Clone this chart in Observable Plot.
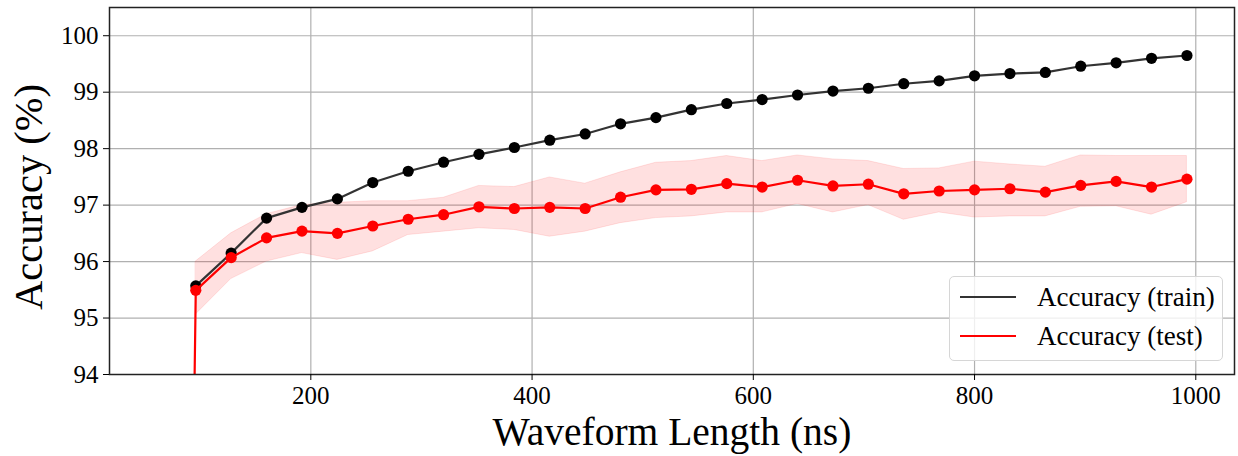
<!DOCTYPE html>
<html>
<head>
<meta charset="utf-8">
<script src="https://cdn.jsdelivr.net/npm/d3@7"></script>
<script src="https://cdn.jsdelivr.net/npm/@observablehq/plot@0.6"></script>
<style>
  html, body { margin: 0; padding: 0; background: #fff; }
  #wrap { position: relative; width: 1238px; height: 456px; font-family: "Liberation Serif", "Times New Roman", serif; }
  #wrap svg text { font-family: "Liberation Serif", "Times New Roman", serif; font-variant-numeric: normal; }
  #legend { position: absolute; left: 949px; top: 276px; width: 272px; height: 83px;
    border: 1px solid #d6d6d6; border-radius: 5px; background: rgba(255,255,255,0.8); box-sizing: content-box; }
  .sw { position: absolute; left: 10px; width: 56px; height: 0; border-top: 2px solid; }
  .lab { position: absolute; left: 87px; font-size: 27px; white-space: nowrap; line-height: 30px; color: #000; }
</style>
</head>
<body>
<div id="wrap"></div>
<script>
// Waveform lengths (ns)
const lengths = [96,128,160,192,224,256,288,320,352,384,416,448,480,512,544,576,608,640,672,704,736,768,800,832,864,896,928,960,992];
// Training accuracy (%)
const trainAcc = [95.57,96.15,96.77,96.96,97.11,97.40,97.60,97.76,97.90,98.02,98.15,98.26,98.44,98.55,98.69,98.80,98.87,98.95,99.02,99.07,99.15,99.20,99.29,99.33,99.35,99.46,99.52,99.60,99.65];
// Test accuracy (%) — line also includes a shorter length point far below the axis range
const testLengths = [64,96,128,160,192,224,256,288,320,352,384,416,448,480,512,544,576,608,640,672,704,736,768,800,832,864,896,928,960,992];
const testAcc = [50.0,95.49,96.07,96.42,96.54,96.50,96.63,96.75,96.83,96.97,96.94,96.96,96.94,97.14,97.27,97.28,97.38,97.32,97.44,97.34,97.37,97.20,97.25,97.27,97.29,97.23,97.35,97.42,97.32,97.46];
// Test accuracy band (lower / upper)
const testLow  = [95.06,95.69,96.00,96.15,96.03,96.18,96.47,96.53,96.59,96.56,96.44,96.53,96.68,96.77,96.80,96.87,96.87,97.02,96.87,97.00,96.74,96.87,96.78,96.80,96.80,96.97,96.98,96.83,97.05];
const testHigh = [96.00,96.50,96.84,97.00,97.04,97.07,97.07,97.13,97.34,97.32,97.49,97.38,97.58,97.75,97.78,97.87,97.78,97.88,97.81,97.78,97.64,97.65,97.77,97.72,97.68,97.88,97.87,97.87,97.87];
const xTicks = [200,400,600,800,1000];
const yTicks = [94,95,96,97,98,99,100];
const xLabel = "Waveform Length (ns)";
const yLabel = "Accuracy (%)";
const seriesNames = ["Accuracy (train)", "Accuracy (test)"];

const train = lengths.map((x, i) => ({x, y: trainAcc[i]}));
const test = testLengths.map((x, i) => ({x, y: testAcc[i]}));
const band = lengths.map((x, i) => ({x, lo: testLow[i], hi: testHigh[i]}));

const FONT = "Liberation Serif";
const fmt = d => String(d);

const chart = Plot.plot({
  width: 1238,
  height: 456,
  marginLeft: 109,
  marginRight: 4,
  marginTop: 7,
  marginBottom: 82,
  style: {fontFamily: FONT, background: "white", color: "black"},
  x: {domain: [18, 1035]},
  y: {domain: [94, 100.5]},
  marks: [
    Plot.gridX(xTicks, {stroke: "#b0b0b0", strokeOpacity: 1, strokeWidth: 1.2}),
    Plot.gridY(yTicks, {stroke: "#b0b0b0", strokeOpacity: 1, strokeWidth: 1.2}),
    Plot.areaY(band, {x: "x", y1: "lo", y2: "hi", fill: "red", fillOpacity: 0.12, stroke: "red", strokeOpacity: 0.1, strokeWidth: 1}),
    Plot.line(train, {x: "x", y: "y", stroke: "#333", strokeWidth: 2.2}),
    Plot.dot(train, {x: "x", y: "y", r: 5.6, fill: "black", stroke: "none"}),
    Plot.line(test, {x: "x", y: "y", stroke: "red", strokeWidth: 2.2, clip: true}),
    Plot.dot(test, {x: "x", y: "y", r: 5.6, fill: "red", stroke: "none", clip: true}),
    Plot.frame({stroke: "#222", strokeWidth: 1.5}),
    Plot.axisX(xTicks, {tickSize: 6, tickPadding: 6, fontSize: 25, fontFamily: FONT, tickFormat: fmt, label: null, stroke: "black"}),
    Plot.axisY(yTicks, {tickSize: 6, tickPadding: 5, fontSize: 25, fontFamily: FONT, tickFormat: fmt, label: null, stroke: "black"}),
    Plot.text([xLabel], {text: d => d, frameAnchor: "bottom", dy: 70, fontSize: 39.5, fontFamily: FONT, fill: "black"}),
    Plot.text([yLabel], {text: d => d, frameAnchor: "left", textAnchor: "middle", rotate: -90, dx: -80, dy: 6, fontSize: 40.5, fontFamily: FONT, fill: "black"})
  ]
});

const wrap = document.getElementById("wrap");
wrap.appendChild(chart);

const legend = document.createElement("div");
legend.id = "legend";
const colors = ["#333", "red"];
const tops = [5, 44];
seriesNames.forEach((name, i) => {
  const sw = document.createElement("div");
  sw.className = "sw";
  sw.style.borderTopColor = colors[i];
  sw.style.top = (tops[i] + 14) + "px";
  const lab = document.createElement("div");
  lab.className = "lab";
  lab.style.top = tops[i] + "px";
  lab.textContent = name;
  legend.appendChild(sw);
  legend.appendChild(lab);
});
wrap.appendChild(legend);
</script>
</body>
</html>
